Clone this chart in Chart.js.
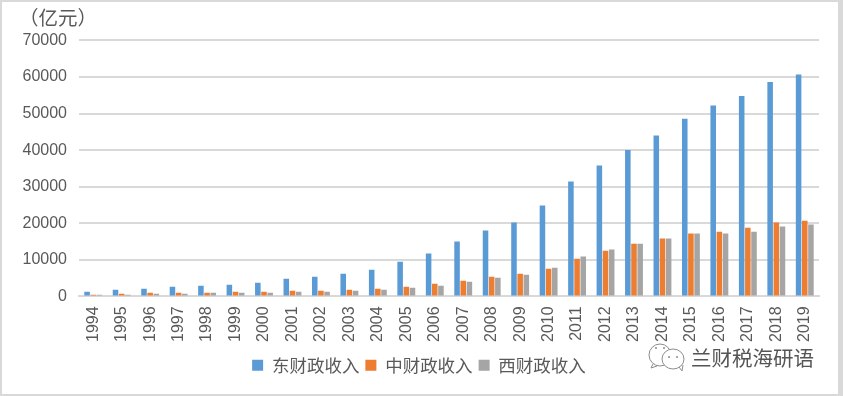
<!DOCTYPE html>
<html>
<head>
<meta charset="utf-8">
<script src="https://cdn.jsdelivr.net/npm/chart.js@4/dist/chart.umd.min.js"></script>
<style>
html, body { margin: 0; padding: 0; background: #d9d9d9; width: 843px; height: 396px; overflow: hidden; }
#wrap { position: absolute; left: 2px; top: 2px; width: 836px; height: 392px; background: #fff; }
</style>
</head>
<body>
<div id="wrap"><canvas id="chart"></canvas></div>
<script>
const years = ['1994','1995','1996','1997','1998','1999','2000','2001','2002','2003','2004','2005','2006','2007','2008','2009','2010','2011','2012','2013','2014','2015','2016','2017','2018','2019'];
const east = [1280,1830,2100,2650,2900,3200,3750,4840,5400,6200,7300,9500,11700,15000,18000,20200,24850,31400,35800,40000,44000,48600,52200,54800,58600,60700];
const middle = [450,730,1000,1000,1000,1280,1280,1550,1550,1830,2100,2650,3470,4300,5400,6200,7580,10300,12500,14400,15800,17200,17700,18800,20200,20700];
const west = [450,450,730,730,1000,1000,1000,1280,1280,1550,1830,2370,2920,4000,5100,5900,7850,10900,12800,14400,15800,17200,17200,17700,19100,19650];

const cjk = '"Noto Sans CJK SC", sans-serif';
const grey = '#595959';

// watermark in the bottom right corner
const watermark = {
    id: 'watermark',
    afterDraw(chart) {
        const ctx = chart.ctx;
        ctx.save();
        ctx.strokeStyle = '#8c8c8c';
        ctx.lineWidth = 1;
        ctx.fillStyle = '#fff';
        ctx.beginPath();
        ctx.ellipse(658, 353, 11, 11, 0, 0, Math.PI * 2);
        ctx.moveTo(651, 362);
        ctx.lineTo(649, 366);
        ctx.lineTo(655, 364);
        ctx.stroke();
        ctx.beginPath();
        ctx.ellipse(671, 357, 11, 10, 0, 0, Math.PI * 2);
        ctx.fill();
        ctx.stroke();
        ctx.beginPath();
        ctx.moveTo(677, 365);
        ctx.lineTo(680, 369);
        ctx.lineTo(681, 363);
        ctx.stroke();
        ctx.fillStyle = '#8c8c8c';
        [[654, 346], [662, 346], [667, 355], [675, 355]].forEach(p => {
            ctx.beginPath();
            ctx.arc(p[0], p[1], 1, 0, Math.PI * 2);
            ctx.fill();
        });
        ctx.fillStyle = '#555';
        ctx.font = '20.5px ' + cjk;
        ctx.textBaseline = 'middle';
        ctx.fillText('兰财税海研语', 689, 356);
        ctx.restore();
    }
};

new Chart(document.querySelector('#chart').getContext('2d'), {
    type: 'bar',
    data: {
        labels: years,
        datasets: [
            { label: '东财政收入', data: east, backgroundColor: '#5b9bd5' },
            { label: '中财政收入', data: middle, backgroundColor: '#ed7d31' },
            { label: '西财政收入', data: west, backgroundColor: '#a5a5a5' }
        ]
    },
    options: {
        responsive: true,
        maintainAspectRatio: false,
        animation: false,
        layout: { padding: { left: 17, right: 19, top: 4, bottom: 10 } },
        datasets: { bar: { categoryPercentage: 0.65, barPercentage: 0.9 } },
        plugins: {
            tooltip: { enabled: false },
            title: {
                display: true,
                text: '（亿元）',
                align: 'start',
                color: grey,
                font: { family: cjk, size: 19.5, weight: 'normal' },
                padding: { top: 0, bottom: 11 }
            },
            legend: {
                position: 'bottom',
                labels: {
                    boxWidth: 11,
                    boxHeight: 11,
                    padding: 6,
                    color: grey,
                    font: { family: cjk, size: 17.5 }
                }
            }
        },
        scales: {
            x: {
                afterFit(scale) { scale.height += 6.5; },
                grid: { display: false },
                border: { color: '#d9d9d9', width: 2 },
                ticks: {
                    color: grey,
                    font: { family: '"Liberation Sans"', size: 16 },
                    minRotation: 90,
                    maxRotation: 90,
                    autoSkip: false,
                    padding: 2
                }
            },
            y: {
                min: 0,
                max: 70000,
                afterFit(scale) { scale.width = 60; },
                grid: { color: '#d9d9d9', lineWidth: 2, drawTicks: false },
                border: { display: false },
                ticks: {
                    stepSize: 10000,
                    color: grey,
                    padding: 12,
                    font: { family: '"Liberation Sans"', size: 16 },
                    callback: value => String(value)
                }
            }
        }
    },
    plugins: [watermark]
});
</script>
</body>
</html>
